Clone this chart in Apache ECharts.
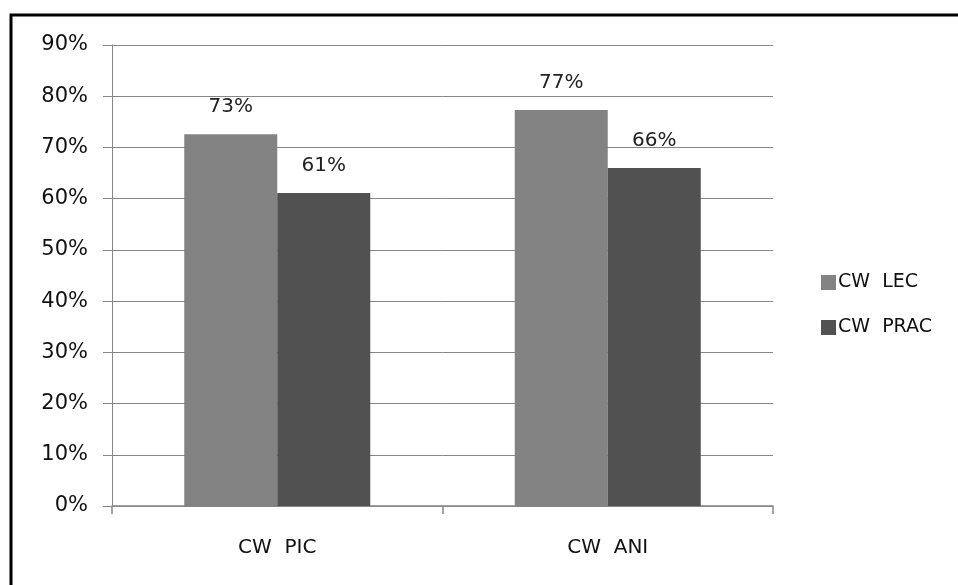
<!DOCTYPE html>
<html>
<head>
<meta charset="utf-8">
<script src="https://cdn.jsdelivr.net/npm/echarts@6/dist/echarts.min.js"></script>
<style>
  html, body { margin: 0; padding: 0; background: #fff; }
  #chart { width: 958px; height: 585px; }
</style>
</head>
<body>
<div id="chart"></div>
<script>
const categories = ['CW  PIC', 'CW  ANI'];
const seriesNames = ['CW  LEC', 'CW  PRAC'];
const lecValues = [72.6, 77.3];
const pracValues = [61.1, 66.0];
const yTicks = [0, 10, 20, 30, 40, 50, 60, 70, 80, 90];

const font = 'DejaVu Sans';
const colors = ['#838383', '#515151'];

const labelOpt = {
  show: true,
  position: 'top',
  distance: 17,
  color: '#222',
  fontFamily: font,
  fontSize: 20,
  formatter: p => Math.round(p.value) + '%'
};

const option = {
  animation: false,
  backgroundColor: '#fff',
  grid: { left: 112, top: 45, right: 185, bottom: 79 },
  legend: {
    orient: 'vertical',
    left: 816,
    top: 268,
    itemWidth: 15,
    itemHeight: 15,
    itemGap: 26,
    icon: 'rect',
    textStyle: { fontFamily: font, fontSize: 19, color: '#111', padding: [0, 0, 0, -3] },
    data: seriesNames
  },
  xAxis: {
    type: 'category',
    data: categories,
    axisLine: { lineStyle: { color: '#868686', width: 1.5 } },
    axisTick: { show: true, length: 8, lineStyle: { color: '#868686', width: 1.5 } },
    axisLabel: { color: '#111', fontFamily: font, fontSize: 20, margin: 32 }
  },
  yAxis: {
    type: 'value',
    min: yTicks[0],
    max: yTicks[yTicks.length - 1],
    interval: 10,
    axisLine: { show: true, lineStyle: { color: '#868686', width: 1 } },
    axisTick: { show: true, length: 9, lineStyle: { color: '#868686' } },
    axisLabel: { color: '#111', fontFamily: font, fontSize: 21, margin: 24, formatter: v => v + '%' },
    splitLine: { lineStyle: { color: '#868686', width: 1 } }
  },
  series: [
    {
      name: seriesNames[0],
      type: 'bar',
      data: lecValues,
      barWidth: 93,
      barGap: '0%',
      itemStyle: { color: colors[0] },
      label: labelOpt
    },
    {
      name: seriesNames[1],
      type: 'bar',
      data: pracValues,
      barWidth: 93,
      barGap: '0%',
      itemStyle: { color: colors[1] },
      label: labelOpt
    }
  ],
  graphic: [
    {
      type: 'polyline',
      shape: { points: [[11, 600], [11, 15], [970, 15]] },
      style: { stroke: '#000', lineWidth: 3, fill: null },
      silent: true
    }
  ]
};

const chart = echarts.init(document.getElementById('chart'));
chart.setOption(option);
</script>
</body>
</html>
